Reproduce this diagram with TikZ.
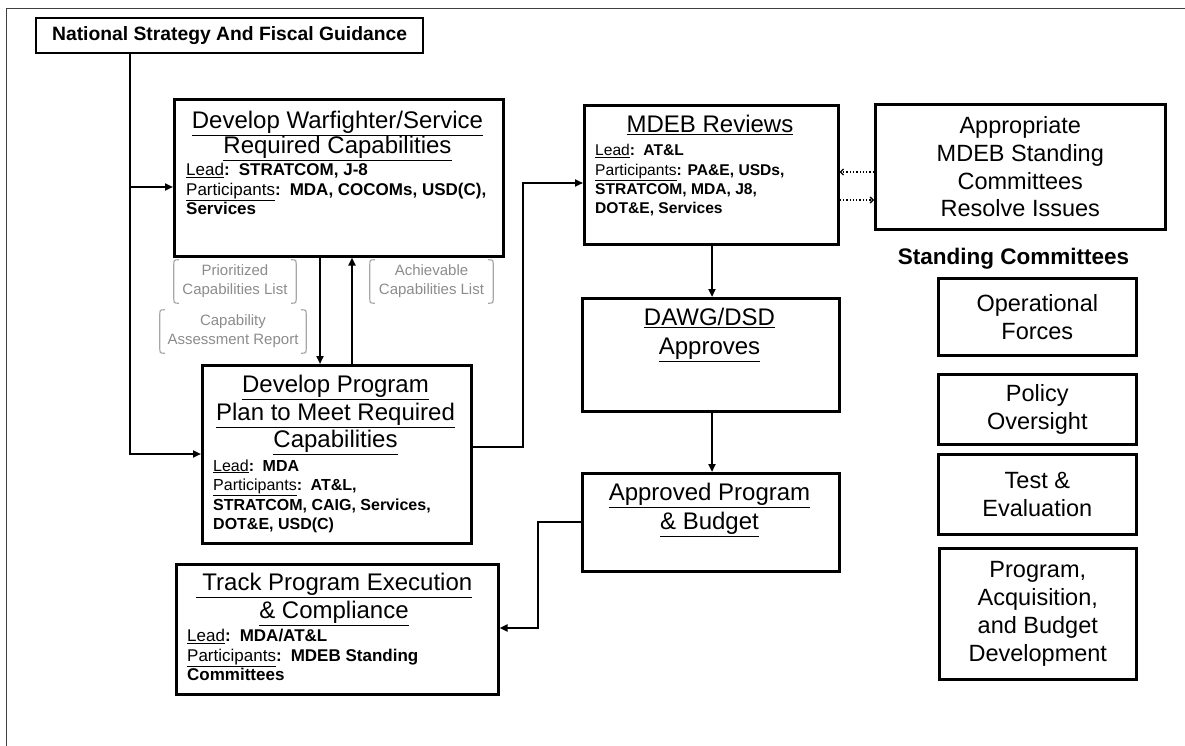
\documentclass[tikz,border=0pt]{standalone}
\usepackage{fontspec}
\setmainfont{Liberation Sans}
\usetikzlibrary{arrows.meta,calc}
\newcommand\myul[1]{\underline{#1}}
\newcommand\graybrk[1]{%
  \draw[brkline] ($(#1.north west)+(7,0)$) .. controls ($(#1.north west)+(2,0)$) .. ($(#1.north west)+(2,6)$) -- ($(#1.south west)+(2,-6)$) .. controls ($(#1.south west)+(2,0)$) .. ($(#1.south west)+(7,0)$);
  \draw[brkline] ($(#1.north east)+(-7,0)$) .. controls ($(#1.north east)+(-2,0)$) .. ($(#1.north east)+(-2,6)$) -- ($(#1.south east)+(-2,-6)$) .. controls ($(#1.south east)+(-2,0)$) .. ($(#1.south east)+(-7,0)$);
}
\begin{document}
\begin{tikzpicture}[x=1pt,y=-1pt,
  box/.style={draw=black, line width=2.6pt, inner sep=0pt, anchor=north west},
  cbox/.style={box, align=center, font=\fontsize{23.5}{27.8}\selectfont},
  ttl/.style={inner sep=0pt, anchor=north, align=center, execute at begin node={\lineskiplimit=-50pt}},
  det/.style={inner sep=0pt, anchor=north west, align=left, font=\fontsize{16}{19.5}\selectfont\bfseries},
  glab/.style={inner sep=0pt, align=center, text=black!45, font=\fontsize{15}{19}\selectfont},
  brkline/.style={draw=black!35, line width=1.2pt},
  conn/.style={line width=2.2pt, -{Triangle[length=8pt,width=7pt]}},
  dconn/.style={line width=1.3pt, dotted, -{Straight Barb[length=3pt,width=6pt]}},
]
\useasboundingbox (0,0) rectangle (1185,746);
\draw[line width=0.8pt, black!75] (1185,8) -- (6,8) -- (6,746);

% top box
\node[box, line width=2.2pt, minimum width=387, minimum height=35, font=\fontsize{19.3}{22}\selectfont\bfseries] (nat) at (35,17) {National Strategy And Fiscal Guidance};

% develop warfighter
\node[box, minimum width=329, minimum height=157] (wf) at (173,98) {};
\node[ttl, font=\fontsize{24}{25}\selectfont] (wft) at (337.5,111.4) {\myul{Develop Warfighter/Service}\\\myul{Required Capabilities}};
\node[det, font=\fontsize{17}{19.5}\selectfont\bfseries] (wfd) at (186,163.2) {{\mdseries\myul{Lead}}:\, STRATCOM, J-8\\{\mdseries\myul{Participants}}:\, MDA, COCOMs, USD(C),\\Services};

% develop program
\node[box, minimum width=269, minimum height=178] (dp) at (201,364) {};
\node[ttl, font=\fontsize{24}{27.5}\selectfont] (dpt) at (335.5,375.4) {\myul{Develop Program}\\\myul{Plan to Meet Required}\\\myul{Capabilities}};
\node[det] (dpd) at (213,459.3) {{\mdseries\myul{Lead}}:\, MDA\\{\mdseries\myul{Participants}}:\, AT\&L,\\STRATCOM, CAIG, Services,\\DOT\&E, USD(C)};

% MDEB reviews
\node[box, minimum width=254, minimum height=139] (md) at (583,104) {};
\node[ttl, font=\fontsize{24}{27}\selectfont] (mdt) at (710,115.1) {\myul{MDEB Reviews}};
\node[det, font=\fontsize{15.6}{19.3}\selectfont\bfseries] (mdd) at (595,144.4) {{\mdseries\myul{Lead}}:\, AT\&L\\{\mdseries\myul{Participants}}: PA\&E, USDs,\\STRATCOM, MDA, J8,\\DOT\&E, Services};

% appropriate committees
\node[box, minimum width=290, minimum height=125, align=center, font=\fontsize{23.5}{27.8}\selectfont] (ar) at (874,103) {Appropriate\\MDEB Standing\\Committees\\Resolve Issues};

\node[inner sep=0pt, anchor=base, font=\fontsize{22.5}{27}\selectfont\bfseries] (sc) at (1013.5,264.7) {Standing Committees};
\node[cbox, minimum width=198, minimum height=77] (of) at (937,277) {Operational\\Forces};
\node[cbox, minimum width=198, minimum height=70] (po) at (937,373) {Policy\\Oversight};
\node[cbox, minimum width=198, minimum height=80] (te) at (937,453) {Test \&\\Evaluation};
\node[cbox, minimum width=197, minimum height=131] (pa) at (938,547) {Program,\\Acquisition,\\and Budget\\Development};

% DAWG and approved
\node[box, minimum width=257, minimum height=113] (dg) at (581,297) {};
\node[ttl, font=\fontsize{24}{29}\selectfont] (dgt) at (709.5,308.4) {\myul{DAWG/DSD}\\\myul{Approves}};
\node[box, minimum width=257, minimum height=98] (ap) at (581,472) {};
\node[ttl, font=\fontsize{24}{29}\selectfont] (apt) at (709.5,483.4) {\myul{Approved Program}\\\myul{\& Budget}};

% track
\node[box, minimum width=322, minimum height=130] (tr) at (175,563) {};
\node[ttl, font=\fontsize{24}{28}\selectfont] (trt) at (334,573.4) {\myul{\ Track Program Execution}\\\myul{\& Compliance}};
\node[det, font=\fontsize{17}{19.5}\selectfont\bfseries] (trd) at (187,629) {{\mdseries\myul{Lead}}:\, MDA/AT\&L\\{\mdseries\myul{Participants}}:\, MDEB Standing\\Committees};

% gray labels
\node[glab, minimum width=126, minimum height=43] (pcl) at (235,281.5) {Prioritized\\Capabilities List};
\node[glab, minimum width=150, minimum height=43] (car) at (233,331.5) {Capability\\Assessment Report};
\node[glab, minimum width=127, minimum height=43] (acl) at (431.5,281.5) {Achievable\\Capabilities List};
\graybrk{pcl}
\graybrk{car}
\graybrk{acl}

% connectors
\coordinate (j1) at (130,187);
\coordinate (j2) at (130,454);
\draw[conn] (nat.south -| j1) |- (wf.west |- j1);
\draw[conn] (j1) |- (dp.west |- j2);
\coordinate (a1) at (320,0);
\coordinate (a2) at (352,0);
\draw[conn] (wf.south -| a1) -- (dp.north -| a1);
\draw[conn] (dp.north -| a2) -- (wf.south -| a2);
\coordinate (j3) at (523,447);
\coordinate (j4) at (523,183);
\draw[conn] (dp.east |- j3) -- (j3) -- (j4) -- (md.west |- j4);
\coordinate (a3) at (712,0);
\draw[conn] (md.south -| a3) -- (dg.north -| a3);
\draw[conn] (dg.south -| a3) -- (ap.north -| a3);
\coordinate (j5) at (538,522);
\coordinate (j6) at (538,628);
\draw[conn] (ap.west |- j5) -- (j5) -- (j6) -- (tr.east |- j6);
\coordinate (d1) at (0,172);
\coordinate (d2) at (0,200);
\draw[dconn] (ar.west |- d1) -- (md.east |- d1);
\draw[dconn] (md.east |- d2) -- (ar.west |- d2);
\end{tikzpicture}
\end{document}
